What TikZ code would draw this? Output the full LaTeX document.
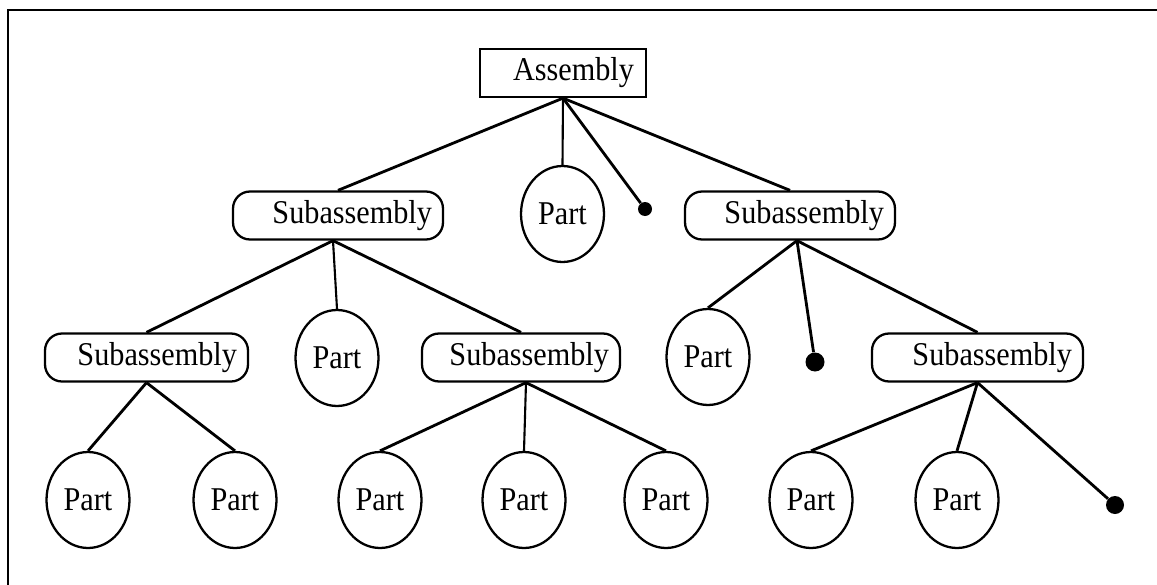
\documentclass[tikz,border=0pt]{standalone}
\usepackage{fontspec}
\setmainfont{Liberation Serif}
\usetikzlibrary{shapes.geometric}
% labels are set slightly tall
\newcommand{\tall}[1]{\scalebox{1}[1.1]{#1}}
\begin{document}
\begin{tikzpicture}[x=0.02cm, y=-0.02cm,
  every node/.style={font=\fontsize{17.2}{20}\selectfont},
  shapeline/.style={draw=black, line width=1.3pt},
  assybox/.style={shapeline, rectangle, minimum height=0.96cm,
    inner xsep=0.24cm, text width=2.84cm, align=right},
  subbox/.style={shapeline, rectangle, rounded corners=0.34cm,
    minimum height=0.96cm, inner xsep=0.22cm, text width=3.76cm, align=right},
  partnode/.style={shapeline, ellipse, inner sep=0pt,
    minimum width=1.66cm, minimum height=1.92cm},
  leafdot/.style={circle, fill=black, inner sep=0pt, minimum size=#1},
  leafdot/.default=0.34cm,
  link/.style={draw=black, line width=1.6pt},
  thinlink/.style={draw=black, line width=1.2pt},
  framerule/.style={draw=black, line width=1.4pt}
]
\useasboundingbox (0,0) rectangle (1157,585);

% open frame: top and left rules only
\coordinate (fTR) at (1157,10);
\coordinate (fTL) at (8,10);
\coordinate (fBL) at (8,585);
\draw[framerule] (fTR) -- (fTL) -- (fBL);

% root
\node[assybox] (A) at (563,73) {\tall{Assembly}};

% first level
\node[subbox] (S1) at (338,215.5) {\tall{Subassembly}};
\node[partnode] (P0) at (562.5,214) {\tall{Part}};
\node[leafdot=0.28cm] (D0) at (645,209) {};
\node[subbox] (S2) at (790,215.5) {\tall{Subassembly}};

% second level
\node[subbox, text width=3.62cm] (S3) at (146.5,357.5) {\tall{Subassembly}};
\node[partnode] (P1) at (337,358) {\tall{Part}};
\node[subbox, text width=3.52cm] (S4) at (521,357.5) {\tall{Subassembly}};
\node[partnode] (P2) at (708,357) {\tall{Part}};
\node[leafdot=0.38cm] (D1) at (815,362) {};
\node[subbox, text width=3.78cm] (S5) at (977.5,357.5) {\tall{Subassembly}};

% third level
\node[partnode] (P3) at (88,500) {\tall{Part}};
\node[partnode] (P4) at (235,500) {\tall{Part}};
\node[partnode] (P5) at (380,500) {\tall{Part}};
\node[partnode] (P6) at (524,500) {\tall{Part}};
\node[partnode] (P7) at (666,500) {\tall{Part}};
\node[partnode] (P8) at (811,500) {\tall{Part}};
\node[partnode] (P9) at (957,500) {\tall{Part}};
\node[leafdot=0.36cm] (D2) at (1115,505) {};

% links
\draw[link] (A.south) -- (S1.north);
\draw[thinlink] (A.south) -- (P0.north);
\draw[link] (A.south) -- (D0);
\draw[link] (A.south) -- (S2.north);

\draw[link] ([xshift=-0.1cm]S1.south) -- (S3.north);
\draw[thinlink] ([xshift=-0.1cm]S1.south) -- (P1.north);
\draw[link] ([xshift=-0.1cm]S1.south) -- (S4.north);

\draw[link] ([xshift=0.14cm]S2.south) -- (P2.north);
\draw[link] ([xshift=0.14cm]S2.south) -- (D1);
\draw[link] ([xshift=0.14cm]S2.south) -- (S5.north);

\draw[link] (S3.south) -- (P3.north);
\draw[link] (S3.south) -- (P4.north);

\draw[link] ([xshift=0.1cm]S4.south) -- (P5.north);
\draw[thinlink] ([xshift=0.1cm]S4.south) -- (P6.north);
\draw[link] ([xshift=0.1cm]S4.south) -- (P7.north);

\draw[link] (S5.south) -- (P8.north);
\draw[link] (S5.south) -- (P9.north);
\draw[link] (S5.south) -- (D2);
\end{tikzpicture}
\end{document}
